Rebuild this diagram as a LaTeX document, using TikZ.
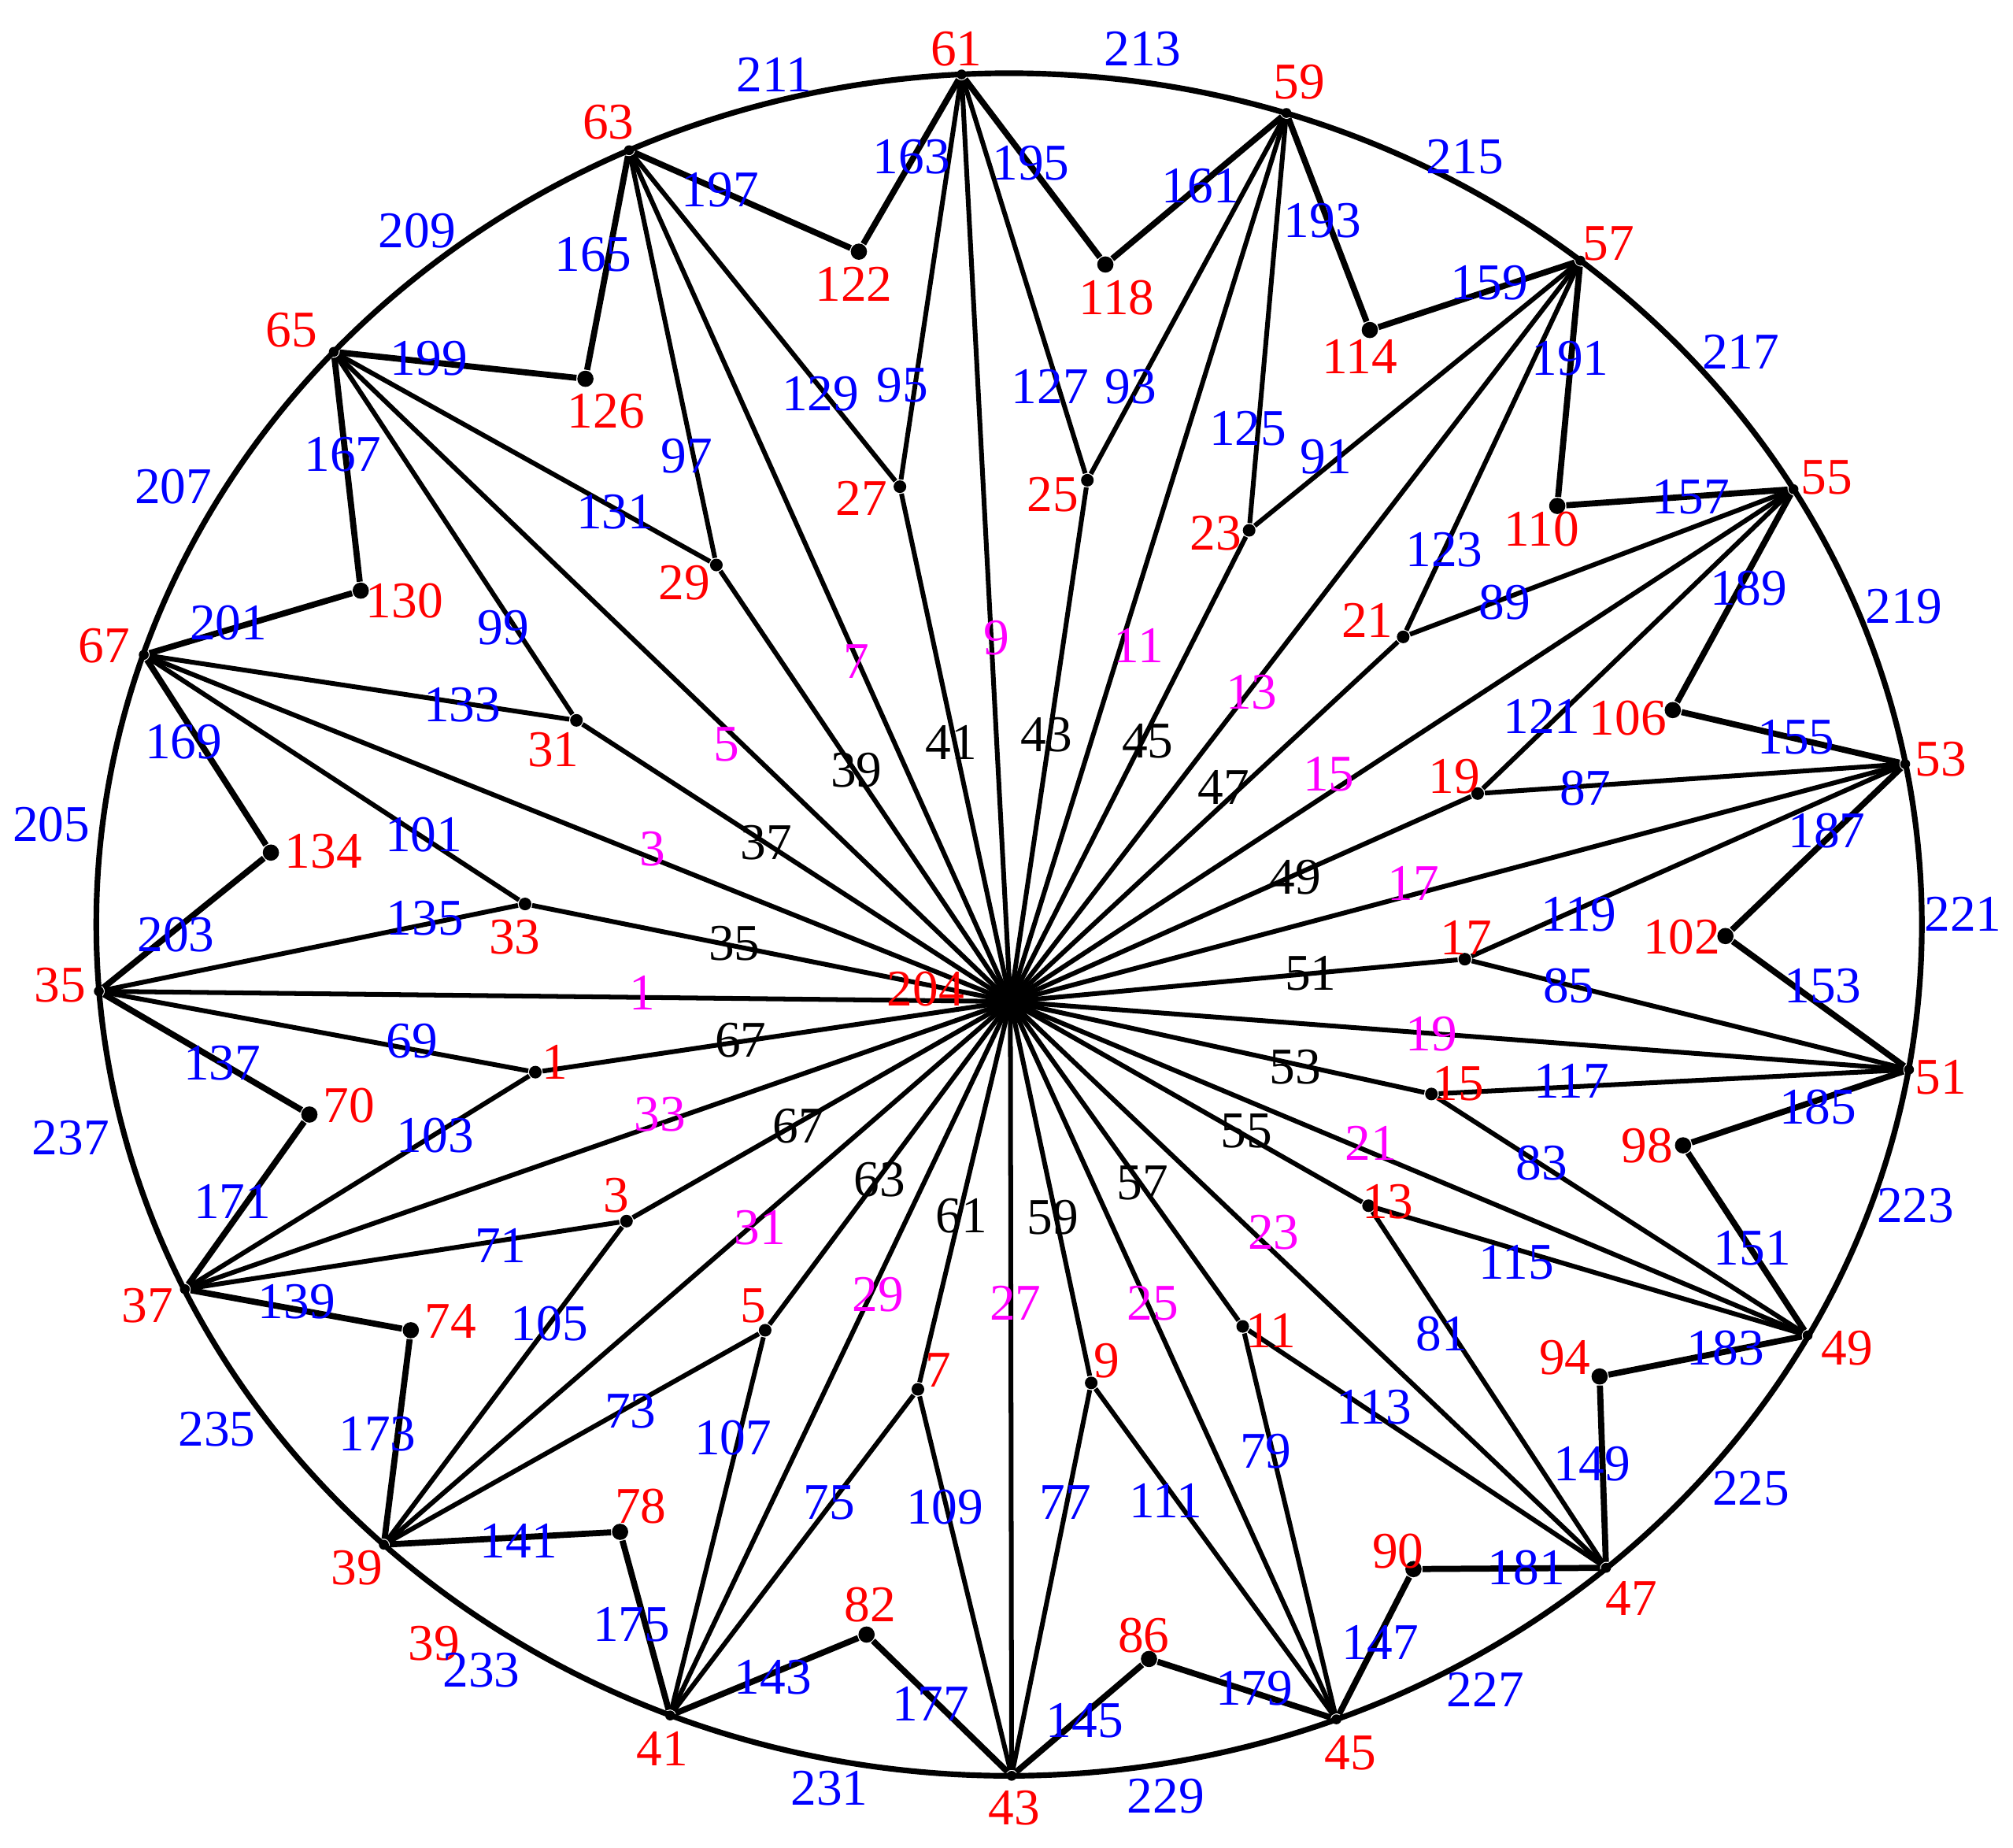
\documentclass[tikz,border=0pt]{standalone}
\usepackage{fontspec}
\setmainfont{Liberation Serif}
\usepackage{tikz}
\definecolor{vred}{HTML}{FF0000}
\definecolor{eblue}{HTML}{0000FF}
\definecolor{hmag}{HTML}{FF00FF}
\tikzset{
  odot/.style={circle, fill=black, inner sep=0pt, minimum size=2.2pt},
  mdot/.style={circle, fill=black, inner sep=0pt, minimum size=2.8pt},
  idot/.style={circle, fill=black, inner sep=0pt, minimum size=3.6pt},
  rim/.style={line width=1.25pt},
  ray/.style={line width=1.05pt, line join=round},
  rib/.style={line width=1.35pt, line join=round},
  vlab/.style={text=vred, inner sep=0pt},
  elab/.style={text=eblue, inner sep=0pt},
  hlab/.style={text=hmag, inner sep=0pt},
  klab/.style={text=black, inner sep=0pt},
}

\begin{document}
\begin{tikzpicture}[x=0.01cm, y=-0.01cm, font=\fontsize{11.4}{13.7}\selectfont]
  \useasboundingbox (0,0) rectangle (1568,1439);

  % Nodes
  \coordinate (hub) at (787,780);
  % outer vertices
  \node[odot] (o61) at (749,58)    {};
  \node[odot] (o59) at (1002,88)   {};
  \node[odot] (o57) at (1231,203)  {};
  \node[odot] (o55) at (1397,381)  {};
  \node[odot] (o53) at (1484,595)  {};
  \node[odot] (o51) at (1487,833)  {};
  \node[odot] (o49) at (1408,1040) {};
  \node[odot] (o47) at (1251,1221) {};
  \node[odot] (o45) at (1041,1339) {};
  \node[odot] (o43) at (788,1383)  {};
  \node[odot] (o41) at (522,1336)  {};
  \node[odot] (o39) at (299,1203)  {};
  \node[odot] (o37) at (144,1004)  {};
  \node[odot] (o35) at (77,772)    {};
  \node[odot] (o67) at (112,510)   {};
  \node[odot] (o65) at (260,274)   {};
  \node[odot] (o63) at (490,117)   {};
  % middle vertices
  \node[mdot] (c1)  at (417,835)  {};
  \node[mdot] (c3)  at (488,951)  {};
  \node[mdot] (c5)  at (596,1036) {};
  \node[mdot] (c7)  at (715,1082) {};
  \node[mdot] (c9)  at (850,1077) {};
  \node[mdot] (c11) at (968,1033) {};
  \node[mdot] (c13) at (1066,939) {};
  \node[mdot] (c15) at (1115,852) {};
  \node[mdot] (c17) at (1141,747) {};
  \node[mdot] (c19) at (1151,618) {};
  \node[mdot] (c21) at (1093,496) {};
  \node[mdot] (c23) at (973,413)  {};
  \node[mdot] (c25) at (847,374)  {};
  \node[mdot] (c27) at (701,379)  {};
  \node[mdot] (c29) at (558,440)  {};
  \node[mdot] (c31) at (449,561)  {};
  \node[mdot] (c33) at (409,704)  {};
  % inner vertices
  \node[idot] (p122) at (669,196)  {};
  \node[idot] (p118) at (861,206)  {};
  \node[idot] (p114) at (1067,257) {};
  \node[idot] (p110) at (1213,394) {};
  \node[idot] (p106) at (1303,553) {};
  \node[idot] (p102) at (1344,729) {};
  \node[idot] (p98)  at (1311,892) {};
  \node[idot] (p94)  at (1246,1072) {};
  \node[idot] (p90)  at (1101,1222) {};
  \node[idot] (p86)  at (895,1292) {};
  \node[idot] (p82)  at (675,1273) {};
  \node[idot] (p78)  at (483,1193) {};
  \node[idot] (p74)  at (320,1036) {};
  \node[idot] (p70)  at (241,868)  {};
  \node[idot] (p134) at (211,664)  {};
  \node[idot] (p130) at (281,460)  {};
  \node[idot] (p126) at (456,295)  {};

  % Edges
  \draw[rim] (786,720) ellipse [x radius=711, y radius=663];
  \draw[ray] (hub) -- (o35) (hub) -- (o37) (hub) -- (o39) (hub) -- (o41)
    (hub) -- (o43) (hub) -- (o45) (hub) -- (o47) (hub) -- (o49) (hub) -- (o51)
    (hub) -- (o53) (hub) -- (o55) (hub) -- (o57) (hub) -- (o59) (hub) -- (o61)
    (hub) -- (o63) (hub) -- (o65) (hub) -- (o67);
  \draw[ray] (hub) -- (c1) (hub) -- (c3) (hub) -- (c5) (hub) -- (c7) (hub) -- (c9)
    (hub) -- (c11) (hub) -- (c13) (hub) -- (c15) (hub) -- (c17) (hub) -- (c19)
    (hub) -- (c21) (hub) -- (c23) (hub) -- (c25) (hub) -- (c27) (hub) -- (c29)
    (hub) -- (c31) (hub) -- (c33);
  \draw[ray] (o35) -- (c1) -- (o37);
  \draw[ray] (o37) -- (c3) -- (o39);
  \draw[ray] (o39) -- (c5) -- (o41);
  \draw[ray] (o41) -- (c7) -- (o43);
  \draw[ray] (o43) -- (c9) -- (o45);
  \draw[ray] (o45) -- (c11) -- (o47);
  \draw[ray] (o47) -- (c13) -- (o49);
  \draw[ray] (o49) -- (c15) -- (o51);
  \draw[ray] (o51) -- (c17) -- (o53);
  \draw[ray] (o53) -- (c19) -- (o55);
  \draw[ray] (o55) -- (c21) -- (o57);
  \draw[ray] (o57) -- (c23) -- (o59);
  \draw[ray] (o59) -- (c25) -- (o61);
  \draw[ray] (o61) -- (c27) -- (o63);
  \draw[ray] (o63) -- (c29) -- (o65);
  \draw[ray] (o65) -- (c31) -- (o67);
  \draw[ray] (o67) -- (c33) -- (o35);
  \draw[rib] (o63) -- (p122) -- (o61);
  \draw[rib] (o61) -- (p118) -- (o59);
  \draw[rib] (o59) -- (p114) -- (o57);
  \draw[rib] (o57) -- (p110) -- (o55);
  \draw[rib] (o55) -- (p106) -- (o53);
  \draw[rib] (o53) -- (p102) -- (o51);
  \draw[rib] (o51) -- (p98) -- (o49);
  \draw[rib] (o49) -- (p94) -- (o47);
  \draw[rib] (o47) -- (p90) -- (o45);
  \draw[rib] (o45) -- (p86) -- (o43);
  \draw[rib] (o43) -- (p82) -- (o41);
  \draw[rib] (o41) -- (p78) -- (o39);
  \draw[rib] (o39) -- (p74) -- (o37);
  \draw[rib] (o37) -- (p70) -- (o35);
  \draw[rib] (o35) -- (p134) -- (o67);
  \draw[rib] (o67) -- (p130) -- (o65);
  \draw[rib] (o65) -- (p126) -- (o63);

  % Vertex labels
  \node[vlab] (r61) at (745,38) {61};    \node[vlab] (r59) at (1012,64) {59};
  \node[vlab] (r57) at (1253,190) {57};  \node[vlab] (r55) at (1423,372) {55};
  \node[vlab] (r53) at (1512,591) {53};  \node[vlab] (r51) at (1512,839) {51};
  \node[vlab] (r49) at (1439,1050) {49}; \node[vlab] (r47) at (1271,1245) {47};
  \node[vlab] (r45) at (1052,1365) {45}; \node[vlab] (r43) at (790,1408) {43};
  \node[vlab] (r41) at (516,1362) {41};  \node[vlab] (r39) at (278,1221) {39};
  \node[vlab] (r37) at (115,1017) {37};  \node[vlab] (r35) at (47,767) {35};
  \node[vlab] (r67) at (81,503) {67};    \node[vlab] (r65) at (227,257) {65};
  \node[vlab] (r63) at (474,95) {63};    \node[vlab] (r39b) at (338,1280) {39};
  \node[vlab] (r204) at (721,770) {204};
  \node[vlab] (r1) at (432,827) {1};     \node[vlab] (r3) at (480,931) {3};
  \node[vlab] (r5) at (587,1017) {5};    \node[vlab] (r7) at (731,1067) {7};
  \node[vlab] (r9) at (862,1060) {9};    \node[vlab] (r11) at (990,1036) {11};
  \node[vlab] (r13) at (1081,936) {13};  \node[vlab] (r15) at (1136,844) {15};
  \node[vlab] (r17) at (1142,730) {17};  \node[vlab] (r19) at (1133,605) {19};
  \node[vlab] (r21) at (1065,483) {21};  \node[vlab] (r23) at (947,415) {23};
  \node[vlab] (r25) at (820,385) {25};   \node[vlab] (r27) at (671,388) {27};
  \node[vlab] (r29) at (533,454) {29};   \node[vlab] (r31) at (431,584) {31};
  \node[vlab] (r33) at (401,730) {33};
  \node[vlab] (r122) at (665,221) {122}; \node[vlab] (r118) at (870,232) {118};
  \node[vlab] (r114) at (1059,278) {114}; \node[vlab] (r110) at (1201,412) {110};
  \node[vlab] (r106) at (1268,559) {106}; \node[vlab] (r102) at (1310,730) {102};
  \node[vlab] (r98) at (1283,892) {98};  \node[vlab] (r94) at (1219,1057) {94};
  \node[vlab] (r90) at (1089,1208) {90}; \node[vlab] (r86) at (891,1274) {86};
  \node[vlab] (r82) at (678,1250) {82};  \node[vlab] (r78) at (499,1173) {78};
  \node[vlab] (r74) at (351,1029) {74};  \node[vlab] (r70) at (272,861) {70};
  \node[vlab] (r134) at (252,663) {134}; \node[vlab] (r130) at (315,468) {130};
  \node[vlab] (r126) at (472,320) {126};

  % Hub edge labels
  \node[hlab] (m1) at (500,773) {1};     \node[hlab] (m3) at (508,661) {3};
  \node[hlab] (m5) at (566,580) {5};     \node[hlab] (m7) at (667,515) {7};
  \node[hlab] (m9) at (776,497) {9};     \node[hlab] (m11) at (887,503) {11};
  \node[hlab] (m13) at (975,539) {13};   \node[hlab] (m15) at (1035,603) {15};
  \node[hlab] (m17) at (1101,688) {17};  \node[hlab] (m19) at (1115,805) {19};
  \node[hlab] (m21) at (1068,890) {21};  \node[hlab] (m23) at (992,960) {23};
  \node[hlab] (m25) at (898,1015) {25};  \node[hlab] (m27) at (791,1015) {27};
  \node[hlab] (m29) at (684,1008) {29};  \node[hlab] (m31) at (592,956) {31};
  \node[hlab] (m33) at (514,868) {33};
  \node[klab] (k35) at (572,735) {35};   \node[klab] (k37) at (597,656) {37};
  \node[klab] (k39) at (667,600) {39};   \node[klab] (k41) at (741,578) {41};
  \node[klab] (k43) at (815,572) {43};   \node[klab] (k45) at (894,577) {45};
  \node[klab] (k47) at (953,613) {47};   \node[klab] (k49) at (1009,683) {49};
  \node[klab] (k51) at (1021,758) {51};  \node[klab] (k53) at (1009,831) {53};
  \node[klab] (k55) at (971,881) {55};   \node[klab] (k57) at (890,921) {57};
  \node[klab] (k59) at (820,948) {59};   \node[klab] (k61) at (749,947) {61};
  \node[klab] (k63) at (685,919) {63};   \node[klab] (k65) at (622,877) {67};
  \node[klab] (k67) at (577,810) {67};

  % Middle edge labels
  \node[elab] (b69) at (321,811) {69};   \node[elab] (b103) at (339,884) {103};
  \node[elab] (b71) at (390,970) {71};   \node[elab] (b105) at (428,1031) {105};
  \node[elab] (b73) at (491,1099) {73};  \node[elab] (b107) at (571,1120) {107};
  \node[elab] (b75) at (646,1170) {75};  \node[elab] (b109) at (736,1174) {109};
  \node[elab] (b77) at (830,1170) {77};  \node[elab] (b111) at (908,1169) {111};
  \node[elab] (b79) at (986,1130) {79};  \node[elab] (b113) at (1070,1096) {113};
  \node[elab] (b81) at (1123,1039) {81}; \node[elab] (b115) at (1181,983) {115};
  \node[elab] (b83) at (1201,906) {83};  \node[elab] (b117) at (1224,842) {117};
  \node[elab] (b85) at (1222,768) {85};  \node[elab] (b119) at (1230,712) {119};
  \node[elab] (b87) at (1235,614) {87};  \node[elab] (b121) at (1201,558) {121};
  \node[elab] (b89) at (1172,469) {89};  \node[elab] (b123) at (1125,428) {123};
  \node[elab] (b91) at (1033,356) {91};  \node[elab] (b125) at (972,334) {125};
  \node[elab] (b93) at (881,301) {93};   \node[elab] (b127) at (818,301) {127};
  \node[elab] (b95) at (703,300) {95};   \node[elab] (b129) at (639,307) {129};
  \node[elab] (b97) at (535,355) {97};   \node[elab] (b131) at (479,399) {131};
  \node[elab] (b99) at (392,489) {99};   \node[elab] (b133) at (360,549) {133};
  \node[elab] (b101) at (330,650) {101}; \node[elab] (b135) at (331,715) {135};

  % Rib edge labels
  \node[elab] (b197) at (561,148) {197}; \node[elab] (b163) at (710,122) {163};
  \node[elab] (b195) at (803,127) {195}; \node[elab] (b161) at (935,145) {161};
  \node[elab] (b193) at (1030,172) {193}; \node[elab] (b159) at (1160,220) {159};
  \node[elab] (b191) at (1223,279) {191}; \node[elab] (b157) at (1317,387) {157};
  \node[elab] (b189) at (1362,458) {189}; \node[elab] (b155) at (1399,574) {155};
  \node[elab] (b187) at (1423,647) {187}; \node[elab] (b153) at (1420,768) {153};
  \node[elab] (b185) at (1416,862) {185}; \node[elab] (b151) at (1365,972) {151};
  \node[elab] (b183) at (1344,1050) {183}; \node[elab] (b149) at (1240,1140) {149};
  \node[elab] (b181) at (1189,1221) {181}; \node[elab] (b147) at (1075,1279) {147};
  \node[elab] (b179) at (977,1315) {179}; \node[elab] (b145) at (845,1340) {145};
  \node[elab] (b177) at (725,1327) {177}; \node[elab] (b143) at (602,1306) {143};
  \node[elab] (b175) at (492,1265) {175}; \node[elab] (b141) at (404,1200) {141};
  \node[elab] (b173) at (294,1117) {173}; \node[elab] (b139) at (231,1014) {139};
  \node[elab] (b171) at (181,936) {171}; \node[elab] (b137) at (173,828) {137};
  \node[elab] (b203) at (137,728) {203}; \node[elab] (b169) at (143,578) {169};
  \node[elab] (b201) at (178,485) {201}; \node[elab] (b167) at (267,354) {167};
  \node[elab] (b199) at (334,279) {199}; \node[elab] (b165) at (462,198) {165};

  % Rim labels
  \node[elab] (b205) at (40,642) {205};   \node[elab] (b207) at (135,379) {207};
  \node[elab] (b209) at (325,180) {209};  \node[elab] (b211) at (603,58) {211};
  \node[elab] (b213) at (890,38) {213};   \node[elab] (b215) at (1141,122) {215};
  \node[elab] (b217) at (1356,274) {217}; \node[elab] (b219) at (1483,472) {219};
  \node[elab] (b221) at (1529,712) {221}; \node[elab] (b223) at (1492,939) {223};
  \node[elab] (b225) at (1364,1159) {225}; \node[elab] (b227) at (1157,1316) {227};
  \node[elab] (b229) at (908,1399) {229}; \node[elab] (b231) at (646,1393) {231};
  \node[elab] (b233) at (375,1301) {233}; \node[elab] (b235) at (169,1113) {235};
  \node[elab] (b237) at (55,886) {237};
\end{tikzpicture}
\end{document}
